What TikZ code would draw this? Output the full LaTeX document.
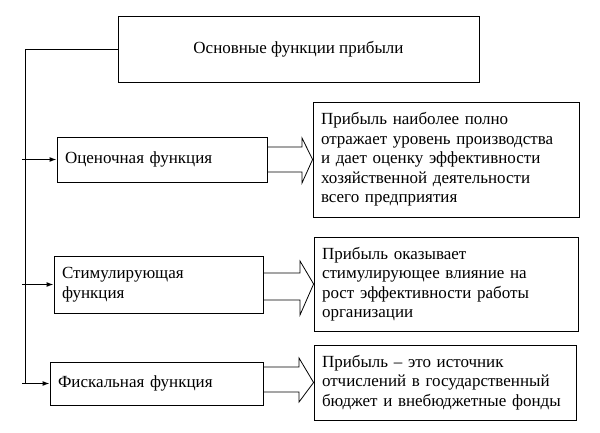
\documentclass[tikz,border=0pt]{standalone}
\usepackage{fontspec}
\setmainfont{Liberation Serif}
\usetikzlibrary{arrows.meta,calc}
\begin{document}
\begin{tikzpicture}[x=1pt,y=-1pt,line width=0.8pt,
	box/.style={draw,align=left,inner xsep=8pt,inner ysep=2pt},
	feed/.style={-{Latex[length=7pt,width=5pt]},line width=1.4pt}]
	\fontsize{17}{19.5}\selectfont
	\useasboundingbox (0,0) rectangle (600,432);
	\node[draw,minimum width=361pt,minimum height=66pt] (main) at (298.5,49) {Основные функции прибыли};

	\node[box,text width=194pt,minimum height=45pt] (f1) at (162,159.5) {Оценочная функция};
	\node[box,text width=193pt,minimum height=57pt] (f2) at (158.5,284.5) {Стимулирующая\\функция};
	\node[box,text width=197pt,minimum height=43pt] (f3) at (156.5,383.5) {Фискальная функция};

	\node[box,text width=250pt,minimum height=115pt] (r1) at (446,159.5) {Прибыль наиболее полно\\отражает уровень производства\\и дает оценку эффективности\\хозяйственной деятельности\\всего предприятия};
	\node[box,text width=248pt,minimum height=94pt] (r2) at (446,284) {Прибыль оказывает\\стимулирующее влияние на\\рост эффективности работы\\организации};
	\node[box,text width=246pt,minimum height=75pt] (r3) at (445,382.5) {Прибыль -- это источник\\отчислений в государственный\\бюджет и внебюджетные фонды};

	\coordinate (trunk) at (25,0);
	\draw (main.west) -| (f3.west -| trunk);
	\foreach \f in {f1,f2,f3}
		\draw[feed] ($(\f.west -| trunk)+(-3,0)$) -- (\f.west);

	% block arrows
	\foreach \f/\r/\st/\sb/\ht/\hb/\bx in {f1/r1/147/172/138/183/302,f2/r2/273/300/261/315/300,f3/r3/367/392/358/402/299}
		\draw (\f.east |- 0,\st) -- (\bx,\st) -- (\bx,\ht) -- (\r.west) -- (\bx,\hb) -- (\bx,\sb) -- (\f.east |- 0,\sb);
\end{tikzpicture}
\end{document}
